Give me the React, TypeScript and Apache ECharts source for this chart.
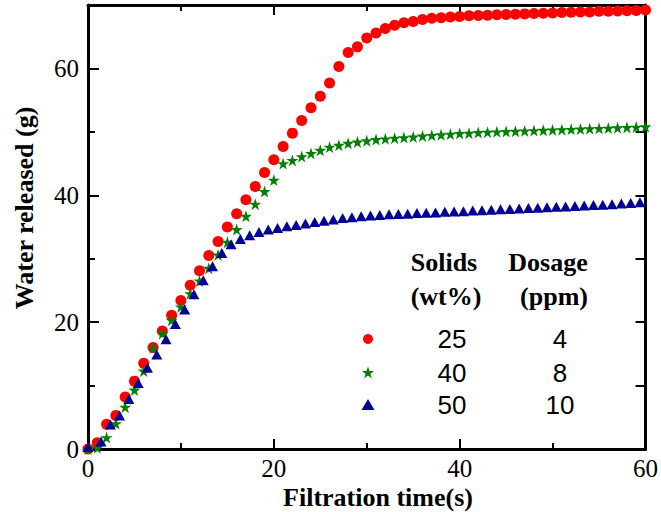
import React, { useEffect, useRef } from "react";
import * as echarts from "echarts";

// Filtration time (s) for the 25 wt% and 40 wt% series
const timeS = [
  0, 1, 2, 3, 4, 5, 6, 7, 8, 9, 10, 11, 12, 13, 14, 15, 16, 17, 18, 19, 20,
  21, 22, 23, 24, 25, 26, 27, 28, 29, 30, 31, 32, 33, 34, 35, 36, 37, 38, 39, 40,
  41, 42, 43, 44, 45, 46, 47, 48, 49, 50, 51, 52, 53, 54, 55, 56, 57, 58, 59, 60,
];
// Filtration time (s) for the 50 wt% series
const timeBlue = [
  0, 1.4, 2.4, 3.4, 4.4, 5.4, 6.4, 7.4, 8.4, 9.4, 10.4, 11.4, 12.4, 13.4, 14.4,
  15.4, 16.4, 17.4, 18.4, 19.4, 20.4, 21.4, 22.4, 23.4, 24.4, 25.4, 26.4, 27.4,
  28.4, 29.4, 30.4, 31.4, 32.4, 33.4, 34.4, 35.4, 36.4, 37.4, 38.4, 39.4, 40.4,
  41.4, 42.4, 43.4, 44.4, 45.4, 46.4, 47.4, 48.4, 49.4, 50.4, 51.4, 52.4, 53.4,
  54.4, 55.4, 56.4, 57.4, 58.4, 59.4,
];
// Water released (g)
const water25 = [
  0, 1.0, 3.9, 5.3, 8.2, 10.7, 13.5, 16.0, 18.6, 21.1, 23.4, 25.8, 28.1, 30.5,
  32.7, 35.0, 37.1, 39.3, 41.4, 43.6, 45.6, 47.7, 49.8, 51.8, 53.8, 55.6, 57.7,
  60.3, 62.5, 63.4, 64.8, 65.6, 66.3, 66.8, 67.2, 67.4, 67.7, 67.9, 68.0, 68.1,
  68.2, 68.3, 68.35, 68.4, 68.45, 68.5, 68.55, 68.6, 68.65, 68.7, 68.75, 68.8,
  68.85, 68.9, 68.9, 69.0, 69.0, 69.05, 69.1, 69.15, 69.2,
];
const water40 = [
  0, 0.2, 1.8, 4.0, 6.6, 9.3, 12.3, 15.9, 18.2, 20.3, 22.4, 24.5, 26.5, 28.5,
  30.6, 32.6, 34.6, 36.7, 38.6, 40.6, 42.4, 45.0, 45.5, 46.1, 46.6, 47.1, 47.6,
  47.9, 48.2, 48.4, 48.6, 48.8, 48.9, 49.0, 49.1, 49.2, 49.35, 49.45, 49.55,
  49.65, 49.75, 49.8, 49.9, 49.95, 50.0, 50.05, 50.1, 50.15, 50.2, 50.25, 50.3,
  50.35, 50.4, 50.45, 50.5, 50.55, 50.6, 50.65, 50.7, 50.75, 50.8,
];
const water50 = [
  0.3, 1.2, 3.85, 5.3, 7.9, 10.4, 12.8, 14.9, 17.3, 19.7, 22.0, 24.4, 26.6, 28.8,
  30.9, 32.3, 33.1, 33.7, 34.2, 34.6, 34.85, 35.1, 35.3, 35.55, 35.8, 36.0, 36.2,
  36.4, 36.55, 36.7, 36.8, 36.9, 37.0, 37.05, 37.1, 37.2, 37.25, 37.3, 37.4,
  37.45, 37.5, 37.6, 37.65, 37.7, 37.8, 37.85, 37.9, 38.0, 38.05, 38.1, 38.2,
  38.25, 38.3, 38.4, 38.45, 38.5, 38.6, 38.7, 38.8, 38.9,
];

// Legend table
const solidsLabels = ["25", "40", "50"];
const dosageLabels = ["4", "8", "10"];
const colors = ["#ff0000", "#008000", "#000099"];

const STAR_PATH =
  "path://M50,0 L61.23,34.55 L97.55,34.55 L68.17,55.9 L79.39,90.45 L50,69.1 L20.61,90.45 L31.83,55.9 L2.45,34.55 L38.77,34.55 Z";

const SERIF = "Liberation Serif";
const SANS = "Liberation Sans";

function starPoints(cx: number, cy: number, R: number): number[][] {
  const pts: number[][] = [];
  const r = R * 0.382;
  for (let i = 0; i < 10; i++) {
    const a = -Math.PI / 2 + (i * Math.PI) / 5;
    const rad = i % 2 === 0 ? R : r;
    pts.push([cx + rad * Math.cos(a), cy + rad * Math.sin(a)]);
  }
  return pts;
}

export default function App() {
  const ref = useRef<HTMLDivElement>(null);
  useEffect(() => {
    if (!ref.current) return;
    const chart = echarts.init(ref.current, undefined, { renderer: "svg" });
    const axisLine = { show: true, onZero: false, lineStyle: { color: "#000", width: 3 } };
    const tickStyle = { color: "#000", width: 2 };
    const labelStyle = { color: "#000", fontFamily: SERIF, fontSize: 25 };

    const legendText = (text: string, x: number, y: number, bold: boolean, family: string) => ({
      type: "text",
      x,
      y,
      style: {
        text,
        fill: "#000",
        fontFamily: family,
        fontSize: 26,
        fontWeight: bold ? "bold" : "normal",
        align: "center",
        verticalAlign: "middle",
      },
    });

    const rowsY = [339, 373, 405];
    const graphics: any[] = [
      {
        type: "text",
        x: 24,
        y: 208,
        rotation: Math.PI / 2,
        style: {
          text: "Water released (g)",
          fill: "#000",
          fontFamily: SERIF,
          fontSize: 26,
          fontWeight: "bold",
          align: "center",
          verticalAlign: "middle",
        },
      },
      {
        type: "text",
        x: 378,
        y: 497,
        style: {
          text: "Filtration time(s)",
          fill: "#000",
          fontFamily: SERIF,
          fontSize: 26,
          fontWeight: "bold",
          align: "center",
          verticalAlign: "middle",
        },
      },
      legendText("Solids", 444, 262, true, SERIF),
      legendText("Dosage", 548, 262, true, SERIF),
      legendText("(wt%)", 446, 296, true, SERIF),
      legendText("(ppm)", 554, 296, true, SERIF),
      { type: "circle", shape: { cx: 368, cy: rowsY[0], r: 5 }, style: { fill: colors[0] } },
      { type: "polygon", shape: { points: starPoints(368, rowsY[1], 6.5) }, style: { fill: colors[1] } },
      {
        type: "polygon",
        shape: { points: [[368, rowsY[2] - 6], [374.5, rowsY[2] + 5], [361.5, rowsY[2] + 5]] },
        style: { fill: colors[2] },
      },
    ];
    solidsLabels.forEach((s, i) => graphics.push(legendText(s, 452, rowsY[i], false, SANS)));
    dosageLabels.forEach((s, i) => graphics.push(legendText(s, 560, rowsY[i], false, SANS)));

    const option: any = {
      animation: false,
      backgroundColor: "#fff",
      grid: { left: 88, right: 13, top: 5, bottom: 63 },
      xAxis: [
        {
          type: "value",
          position: "bottom",
          min: 0,
          max: 60,
          interval: 20,
          axisLine,
          axisTick: { show: true, inside: true, length: 10, lineStyle: tickStyle },
          minorTick: { show: true, splitNumber: 2, length: 6, lineStyle: tickStyle },
          axisLabel: { ...labelStyle, margin: 7 },
          splitLine: { show: false },
        },
        {
          type: "value",
          position: "top",
          min: 0,
          max: 60,
          interval: 20,
          axisLine,
          axisTick: { show: true, inside: true, length: 10, lineStyle: tickStyle },
          minorTick: { show: true, splitNumber: 2, length: 6, lineStyle: tickStyle },
          axisLabel: { show: false },
          splitLine: { show: false },
        },
      ],
      yAxis: [
        {
          type: "value",
          position: "left",
          min: 0,
          max: 70,
          interval: 20,
          axisLine,
          axisTick: { show: true, inside: true, length: 11, lineStyle: tickStyle },
          axisLabel: {
            ...labelStyle,
            margin: 9,
            formatter: (v: number) => (v % 20 === 0 ? String(v) : ""),
          },
          splitLine: { show: false },
        },
        {
          type: "value",
          position: "left",
          min: 0,
          max: 70,
          interval: 10,
          axisLine: { show: false },
          axisTick: { show: true, inside: true, length: 7, lineStyle: tickStyle },
          axisLabel: { show: false },
          splitLine: { show: false },
        },
        {
          type: "value",
          position: "right",
          min: 0,
          max: 70,
          interval: 10,
          axisLine,
          axisTick: { show: true, inside: true, length: 10, lineStyle: tickStyle },
          axisLabel: { show: false },
          splitLine: { show: false },
        },
      ],
      series: [
        {
          type: "scatter",
          name: "25",
          symbol: "circle",
          symbolSize: 11,
          itemStyle: { color: colors[0], opacity: 1 },
          data: timeS.map((t, i) => [t, water25[i]]),
          clip: true,
          z: 2,
        },
        {
          type: "scatter",
          name: "40",
          symbol: STAR_PATH,
          symbolSize: 12,
          itemStyle: { color: colors[1], opacity: 1 },
          data: timeS.map((t, i) => [t, water40[i]]),
          clip: true,
          z: 3,
        },
        {
          type: "scatter",
          name: "50",
          symbol: "triangle",
          symbolSize: [11, 10],
          itemStyle: { color: colors[2], opacity: 1 },
          data: timeBlue.map((t, i) => [t, water50[i]]),
          clip: true,
          z: 4,
        },
      ],
      graphic: graphics,
    };
    chart.setOption(option);
    return () => chart.dispose();
  }, []);
  return (
    <div
      ref={ref}
      style={{ position: "absolute", left: 0, top: 0, width: 661, height: 512 }}
    />
  );
}
